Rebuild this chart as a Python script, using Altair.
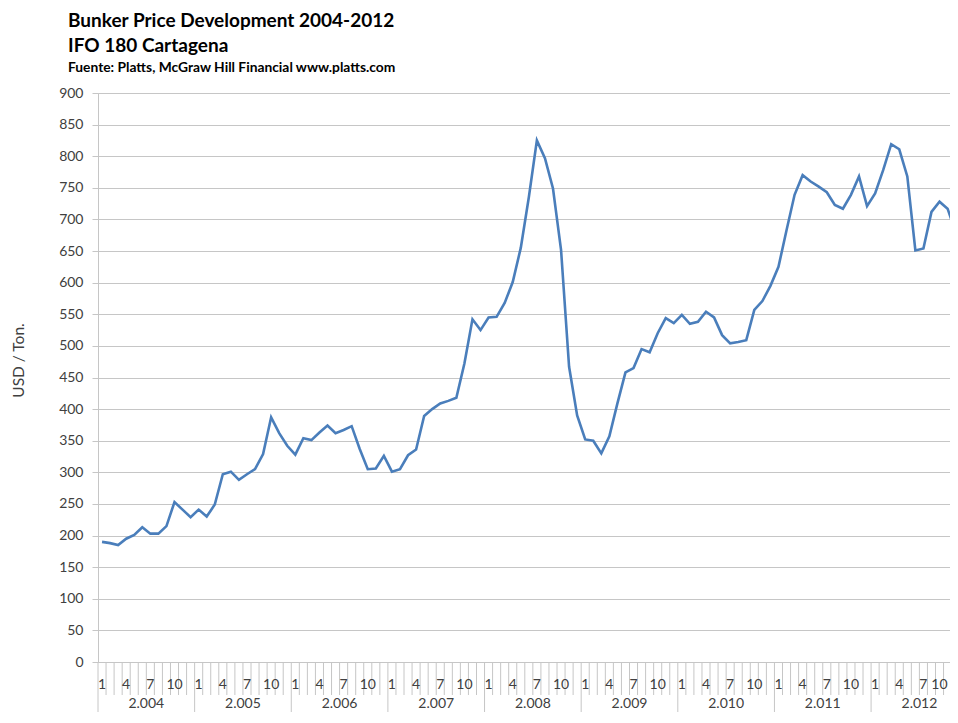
import altair as alt
import pandas as pd

# Monthly IFO 180 Cartagena bunker prices (USD / ton), Jan 2004 .. Nov 2012
P2004 = [190, 188, 185, 195, 201, 213, 203, 203, 215, 253, 241, 229]
P2005 = [241, 230, 249, 297, 301, 288, 297, 305, 329, 387, 362, 342]
P2006 = [328, 354, 351, 363, 374, 362, 367, 373, 337, 305, 306, 326]
P2007 = [301, 305, 327, 336, 389, 400, 409, 413, 418, 472, 542, 525]
P2008 = [545, 546, 568, 601, 655, 735, 825, 797, 749, 652, 467, 390]
P2009 = [352, 350, 330, 357, 409, 458, 465, 495, 490, 520, 544, 536]
P2010 = [549, 535, 538, 554, 545, 517, 504, 506, 509, 557, 571, 595]
P2011 = [625, 683, 739, 770, 760, 752, 743, 723, 717, 739, 768, 721]
P2012 = [741, 778, 819, 811, 768, 651, 654, 712, 728, 717, 680]

YEARS = ["2.004", "2.005", "2.006", "2.007", "2.008", "2.009", "2.010", "2.011", "2.012"]
MONTH_LABELS = ["1", "4", "7", "10"]
MONTH_LABEL_POS = [1, 4, 7, 10]
Y_TICKS = list(range(0, 901, 50))

FONT = "Lato"
LINE_COLOR = "#4a7ebb"
GRID = "#c6c6c6"
TXT = "#404040"

W, H = 852, 569
X_MAX = 105.8  # visible months in the (cropped) plot area

prices = P2004 + P2005 + P2006 + P2007 + P2008 + P2009 + P2010 + P2011 + P2012
df = pd.DataFrame({"m": [i + 0.5 for i in range(len(prices))], "price": prices})

bounds = pd.DataFrame({"b": [i for i in range(0, 106) if i % 12 != 0]})
ybounds = pd.DataFrame({"b": [i for i in range(0, 106) if i % 12 == 0]})
mlab_all = pd.DataFrame([
    {"m": 12 * k + p - 0.5, "t": t}
    for k in range(len(YEARS)) for p, t in zip(MONTH_LABEL_POS, MONTH_LABELS)
    if 12 * k + p - 0.5 < X_MAX
])
mlab = mlab_all.iloc[:-1]
mlab_last = mlab_all.iloc[-1:]
ylab = pd.DataFrame({"m": [12 * k + 6 for k in range(len(YEARS))], "t": YEARS})

xs = alt.Scale(domain=[0, X_MAX], nice=False, zero=False)

line = alt.Chart(df).mark_line(color=LINE_COLOR, strokeWidth=2.6, clip=True).encode(
    x=alt.X("m:Q", scale=xs, axis=None),
    y=alt.Y("price:Q", scale=alt.Scale(domain=[0, 900], nice=False),
            axis=alt.Axis(values=Y_TICKS, grid=True, gridColor=GRID, gridWidth=1,
                          domain=True, domainColor=GRID, ticks=True, tickSize=6,
                          tickColor=GRID, labelPadding=9, labelFontSize=14,
                          labelColor=TXT, labelFont=FONT,
                          title="USD / Ton.", titleFont=FONT, titleFontSize=15.5,
                          titleFontWeight="normal", titleColor=TXT,
                          titleX=-80, titleY=267, titleAngle=270,
                          titleAlign="center", titleBaseline="middle")),
)

mticks = alt.Chart(bounds).mark_rule(color=GRID, strokeWidth=1).encode(
    x=alt.X("b:Q", scale=xs, axis=None), y=alt.value(H), y2=alt.value(H + 33))
yticks = alt.Chart(ybounds).mark_rule(color=GRID, strokeWidth=1).encode(
    x=alt.X("b:Q", scale=xs, axis=None), y=alt.value(H), y2=alt.value(H + 64))
mtext = alt.Chart(mlab).mark_text(font=FONT, fontSize=14, color=TXT, baseline="middle").encode(
    x=alt.X("m:Q", scale=xs, axis=None), y=alt.value(H + 23), text="t:N")
mtext_last = alt.Chart(mlab_last).mark_text(font=FONT, fontSize=14, color=TXT,
                                            baseline="middle", align="right", dx=0).encode(
    x=alt.X("m:Q", scale=xs, axis=None), y=alt.value(H + 23), text="t:N")
ytext = alt.Chart(ylab).mark_text(font=FONT, fontSize=14, color=TXT, baseline="middle").encode(
    x=alt.X("m:Q", scale=xs, axis=None), y=alt.value(H + 42), text="t:N")

chart = alt.layer(mticks, yticks, mtext, mtext_last, ytext, line).properties(
    width=W, height=H,
    autosize=alt.AutoSizeParams(type="none"),
    padding={"left": 90, "top": 85, "right": 0, "bottom": 50},
    title=alt.TitleParams(
        text=["Bunker Price Development 2004-2012", "IFO 180 Cartagena"],
        subtitle="Fuente: Platts, McGraw Hill Financial www.platts.com",
        anchor="start", frame="group", dx=-30, offset=11,
        font=FONT, fontSize=19, fontWeight="bold", color="black", lineHeight=25,
        subtitleFont=FONT, subtitleFontSize=13.8, subtitleFontWeight="bold",
        subtitleColor="black", subtitlePadding=5,
    ),
).configure_view(stroke=None).configure(background="white")

chart.save("out.html", embed_options={"renderer": "svg", "actions": False})
